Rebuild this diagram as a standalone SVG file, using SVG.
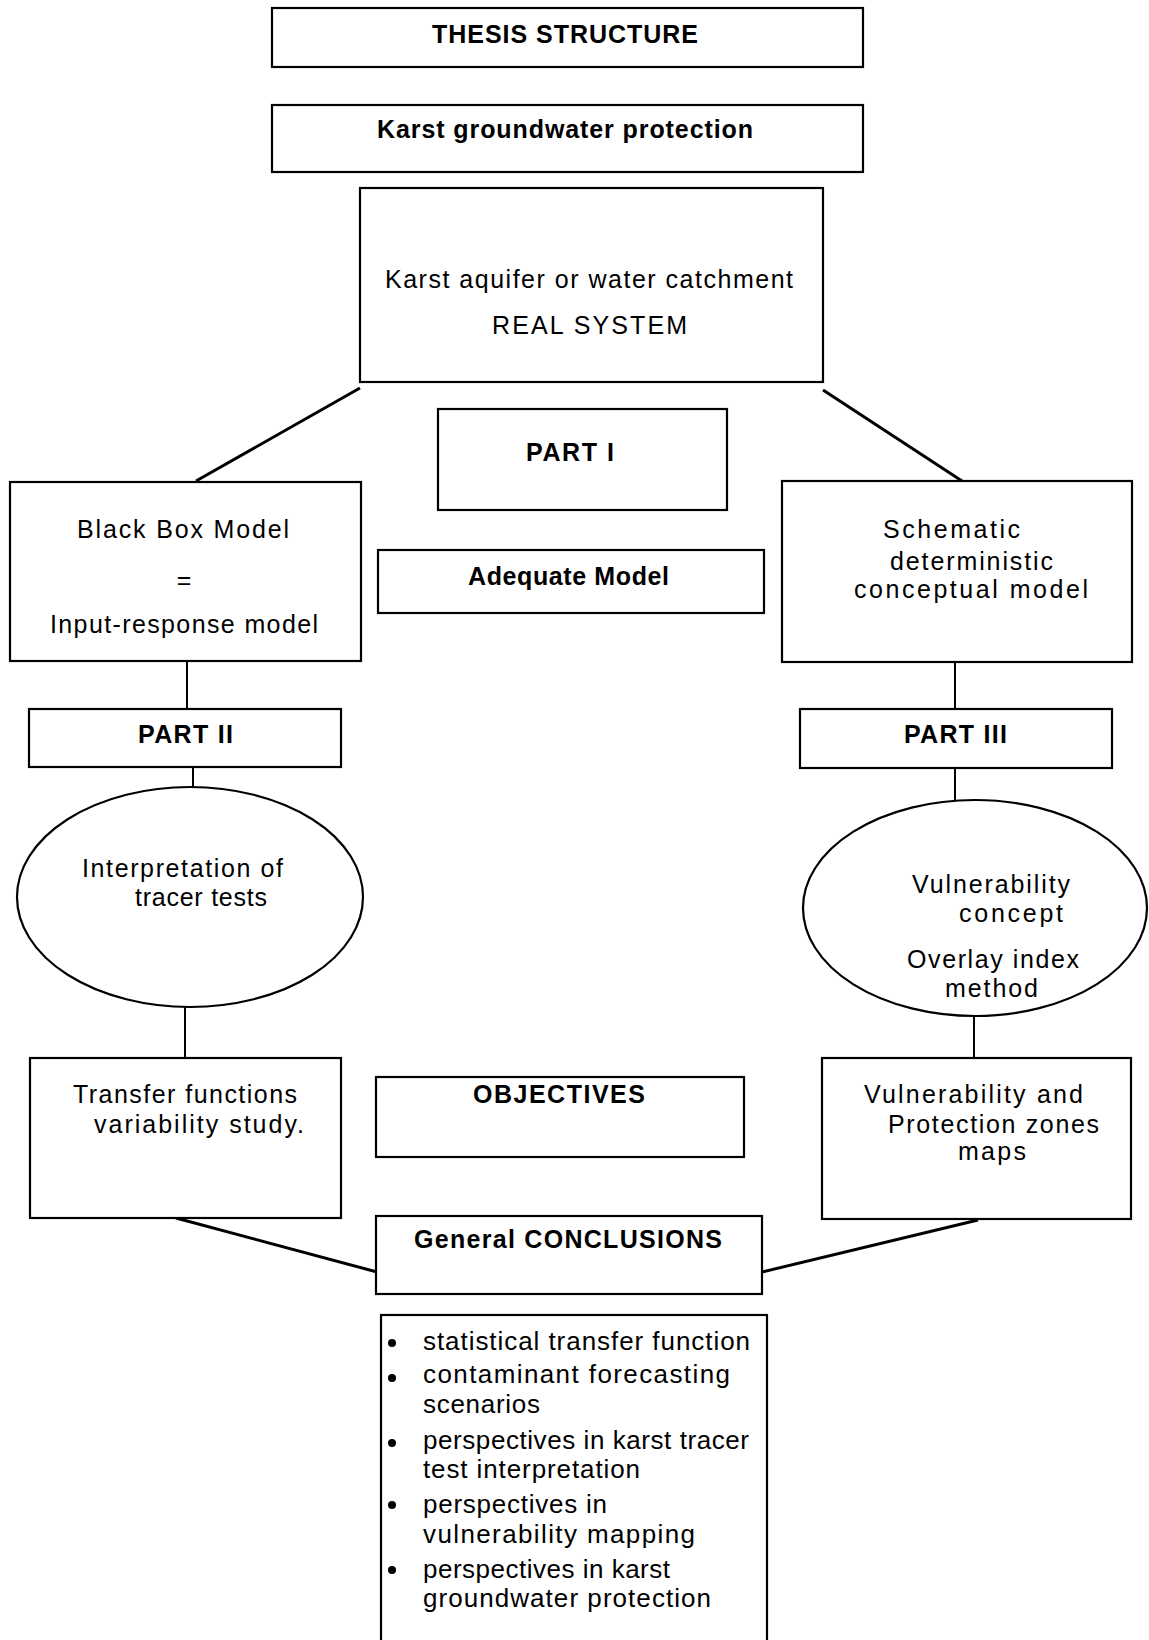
<svg xmlns="http://www.w3.org/2000/svg" width="1149" height="1640" viewBox="0 0 1149 1640">
<style>
.box{fill:#fff;stroke:#000;stroke-width:2.2}
.conn line{stroke:#000;stroke-width:2}
.conn line.diag{stroke-width:3}
text{font-family:"Liberation Sans",Arial,Helvetica,sans-serif;fill:#000;font-size:25px}
.b{font-weight:bold}
.bl text{font-size:26px}
</style>
<rect width="1149" height="1640" fill="#fff"/>
<g id="connectors" class="conn">
<line class="diag" x1="360" y1="388" x2="196" y2="481"/>
<line class="diag" x1="823" y1="390" x2="962" y2="481"/>
<line x1="187" y1="661" x2="187" y2="709"/>
<line x1="955" y1="662" x2="955" y2="709"/>
<line x1="193" y1="767" x2="193" y2="788"/>
<line x1="955" y1="768" x2="955" y2="800"/>
<line x1="185" y1="1007" x2="185" y2="1058"/>
<line x1="974" y1="1016" x2="974" y2="1058"/>
<line class="diag" x1="176" y1="1218" x2="377" y2="1272"/>
<line class="diag" x1="978" y1="1220" x2="762" y2="1272"/>
</g>
<g id="thesis">
<rect class="box" x="272" y="8" width="591" height="59"/>
<text class="b" x="432" y="43" textLength="266" lengthAdjust="spacing">THESIS STRUCTURE</text>
</g>
<g id="karst-protection">
<rect class="box" x="272" y="105" width="591" height="67"/>
<text class="b" x="377" y="138" textLength="376" lengthAdjust="spacing">Karst groundwater protection</text>
</g>
<g id="real-system">
<rect class="box" x="360" y="188" width="463" height="194"/>
<text x="385" y="288" textLength="408" lengthAdjust="spacing">Karst aquifer or water catchment</text>
<text x="492" y="334" textLength="195" lengthAdjust="spacing">REAL  SYSTEM</text>
</g>
<g id="part1">
<rect class="box" x="438" y="409" width="289" height="101"/>
<text class="b" x="526" y="461" textLength="88" lengthAdjust="spacing">PART I</text>
</g>
<g id="black-box">
<rect class="box" x="10" y="482" width="351" height="179"/>
<text x="77" y="538" textLength="212" lengthAdjust="spacing">Black Box Model</text>
<text x="184" y="589" text-anchor="middle">=</text>
<text x="50" y="633" textLength="268" lengthAdjust="spacing">Input-response model</text>
</g>
<g id="adequate">
<rect class="box" x="378" y="550" width="386" height="63"/>
<text class="b" x="468" y="585" textLength="201" lengthAdjust="spacing">Adequate Model</text>
</g>
<g id="schematic">
<rect class="box" x="782" y="481" width="350" height="181"/>
<text x="883" y="538" textLength="137" lengthAdjust="spacing">Schematic</text>
<text x="890" y="570" textLength="163" lengthAdjust="spacing">deterministic</text>
<text x="854" y="598" textLength="234" lengthAdjust="spacing">conceptual  model</text>
</g>
<g id="part2">
<rect class="box" x="29" y="709" width="312" height="58"/>
<text class="b" x="138" y="743" textLength="95" lengthAdjust="spacing">PART II</text>
</g>
<g id="part3">
<rect class="box" x="800" y="709" width="312" height="59"/>
<text class="b" x="904" y="743" textLength="103" lengthAdjust="spacing">PART III</text>
</g>
<g id="tracer-tests">
<ellipse class="box" cx="190" cy="897" rx="173" ry="110"/>
<text x="82" y="877" textLength="201" lengthAdjust="spacing">Interpretation of</text>
<text x="135" y="906" textLength="132" lengthAdjust="spacing">tracer tests</text>
</g>
<g id="vulnerability-concept">
<ellipse class="box" cx="975" cy="908" rx="172" ry="108"/>
<text x="912" y="893" textLength="158" lengthAdjust="spacing">Vulnerability</text>
<text x="959" y="922" textLength="104" lengthAdjust="spacing">concept</text>
<text x="907" y="968" textLength="172" lengthAdjust="spacing">Overlay index</text>
<text x="945" y="997" textLength="93" lengthAdjust="spacing">method</text>
</g>
<g id="transfer">
<rect class="box" x="30" y="1058" width="311" height="160"/>
<text x="73" y="1103" textLength="224" lengthAdjust="spacing">Transfer functions</text>
<text x="94" y="1133" textLength="210" lengthAdjust="spacing">variability  study.</text>
</g>
<g id="objectives">
<rect class="box" x="376" y="1077" width="368" height="80"/>
<text class="b" x="473" y="1103" textLength="172" lengthAdjust="spacing">OBJECTIVES</text>
</g>
<g id="vulnerability-maps">
<rect class="box" x="822" y="1058" width="309" height="161"/>
<text x="864" y="1103" textLength="219" lengthAdjust="spacing">Vulnerability  and</text>
<text x="888" y="1133" textLength="211" lengthAdjust="spacing">Protection zones</text>
<text x="958" y="1160" textLength="68" lengthAdjust="spacing">maps</text>
</g>
<g id="conclusions">
<rect class="box" x="376" y="1216" width="386" height="78"/>
<text class="b" x="414" y="1248" textLength="308" lengthAdjust="spacing">General CONCLUSIONS</text>
</g>
<g id="conclusion-list" class="bl">
<rect class="box" x="381" y="1315" width="386" height="340"/>
<circle cx="392" cy="1343" r="4"/>
<circle cx="392" cy="1378" r="4"/>
<circle cx="392" cy="1443" r="4"/>
<circle cx="392" cy="1505" r="4"/>
<circle cx="392" cy="1570" r="4"/>
<text x="423" y="1350" textLength="327" lengthAdjust="spacing">statistical transfer function</text>
<text x="423" y="1383" textLength="307" lengthAdjust="spacing">contaminant  forecasting</text>
<text x="423" y="1413" textLength="117" lengthAdjust="spacing">scenarios</text>
<text x="423" y="1449" textLength="326" lengthAdjust="spacing">perspectives in karst tracer</text>
<text x="423" y="1478" textLength="217" lengthAdjust="spacing">test interpretation</text>
<text x="423" y="1513" textLength="184" lengthAdjust="spacing">perspectives in</text>
<text x="423" y="1543" textLength="272" lengthAdjust="spacing">vulnerability  mapping</text>
<text x="423" y="1578" textLength="247" lengthAdjust="spacing">perspectives in karst</text>
<text x="423" y="1607" textLength="288" lengthAdjust="spacing">groundwater  protection</text>
</g>
</svg>
